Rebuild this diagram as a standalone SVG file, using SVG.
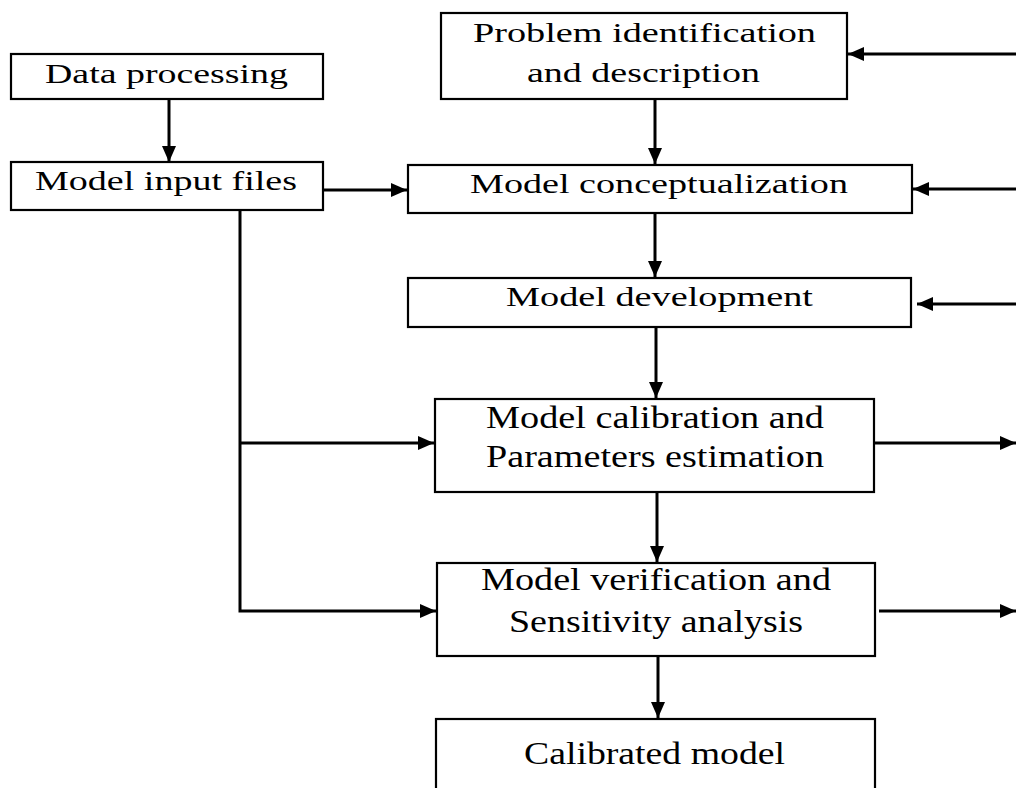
<svg xmlns="http://www.w3.org/2000/svg" width="1016" height="788" viewBox="0 0 1016 788">
<style>
.box{fill:#fff;stroke:#000;stroke-width:2.2}
.c{fill:none;stroke:#000;stroke-width:3}
</style>
<defs>
<marker id="ah" markerUnits="userSpaceOnUse" markerWidth="16" markerHeight="14" refX="16" refY="7" orient="auto">
<path d="M0,0 L16,7 L0,14 Z" fill="#000"/>
</marker>
</defs>
<rect width="1016" height="788" fill="#fff"/>
<g id="connectors">
<line class="c" x1="169" y1="99" x2="169" y2="162" marker-end="url(#ah)"/>
<line class="c" x1="323" y1="190" x2="407" y2="190" marker-end="url(#ah)"/>
<line class="c" x1="655" y1="99" x2="655" y2="164" marker-end="url(#ah)"/>
<line class="c" x1="655" y1="213" x2="655" y2="277" marker-end="url(#ah)"/>
<line class="c" x1="656" y1="327" x2="656" y2="398" marker-end="url(#ah)"/>
<line class="c" x1="657" y1="492" x2="657" y2="562" marker-end="url(#ah)"/>
<line class="c" x1="658" y1="656" x2="658" y2="718" marker-end="url(#ah)"/>
<line class="c" x1="1016" y1="54" x2="848" y2="54" marker-end="url(#ah)"/>
<line class="c" x1="1016" y1="189" x2="913" y2="189" marker-end="url(#ah)"/>
<line class="c" x1="1016" y1="304" x2="917" y2="304" marker-end="url(#ah)"/>
<line class="c" x1="874" y1="443" x2="1016" y2="443" marker-end="url(#ah)"/>
<line class="c" x1="879" y1="611" x2="1016" y2="611" marker-end="url(#ah)"/>
<polyline class="c" points="240,210 240,611 436,611" marker-end="url(#ah)"/>
<line class="c" x1="240" y1="443" x2="434" y2="443" marker-end="url(#ah)"/>
</g>
<g id="data-processing">
<rect class="box" x="11" y="54" width="312" height="45"/>
<text x="45" y="83" font-family="Liberation Serif" font-size="28" textLength="243" lengthAdjust="spacingAndGlyphs">Data processing</text>
</g>
<g id="model-input-files">
<rect class="box" x="11" y="162" width="312" height="48"/>
<text x="35" y="190" font-family="Liberation Serif" font-size="28" textLength="262" lengthAdjust="spacingAndGlyphs">Model input files</text>
</g>
<g id="problem-identification">
<rect class="box" x="441" y="13" width="406" height="86"/>
<text x="473" y="42" font-family="Liberation Serif" font-size="27" textLength="343" lengthAdjust="spacingAndGlyphs">Problem identification</text>
<text x="527" y="82" font-family="Liberation Serif" font-size="27" textLength="233" lengthAdjust="spacingAndGlyphs">and description</text>
</g>
<g id="model-conceptualization">
<rect class="box" x="408" y="165" width="504" height="48"/>
<text x="470" y="193" font-family="Liberation Serif" font-size="28" textLength="378" lengthAdjust="spacingAndGlyphs">Model conceptualization</text>
</g>
<g id="model-development">
<rect class="box" x="408" y="278" width="503" height="49"/>
<text x="506" y="306" font-family="Liberation Serif" font-size="28" textLength="307" lengthAdjust="spacingAndGlyphs">Model development</text>
</g>
<g id="model-calibration">
<rect class="box" x="435" y="399" width="439" height="93"/>
<text x="486" y="428" font-family="Liberation Serif" font-size="31" textLength="338" lengthAdjust="spacingAndGlyphs">Model calibration and</text>
<text x="486" y="467" font-family="Liberation Serif" font-size="31" textLength="338" lengthAdjust="spacingAndGlyphs">Parameters estimation</text>
</g>
<g id="model-verification">
<rect class="box" x="437" y="563" width="438" height="93"/>
<text x="481" y="590" font-family="Liberation Serif" font-size="31" textLength="350" lengthAdjust="spacingAndGlyphs">Model verification and</text>
<text x="509" y="632" font-family="Liberation Serif" font-size="31" textLength="294" lengthAdjust="spacingAndGlyphs">Sensitivity analysis</text>
</g>
<g id="calibrated-model">
<rect class="box" x="436" y="719" width="439" height="90"/>
<text x="524" y="764" font-family="Liberation Serif" font-size="32" textLength="261" lengthAdjust="spacingAndGlyphs">Calibrated model</text>
</g>
</svg>
